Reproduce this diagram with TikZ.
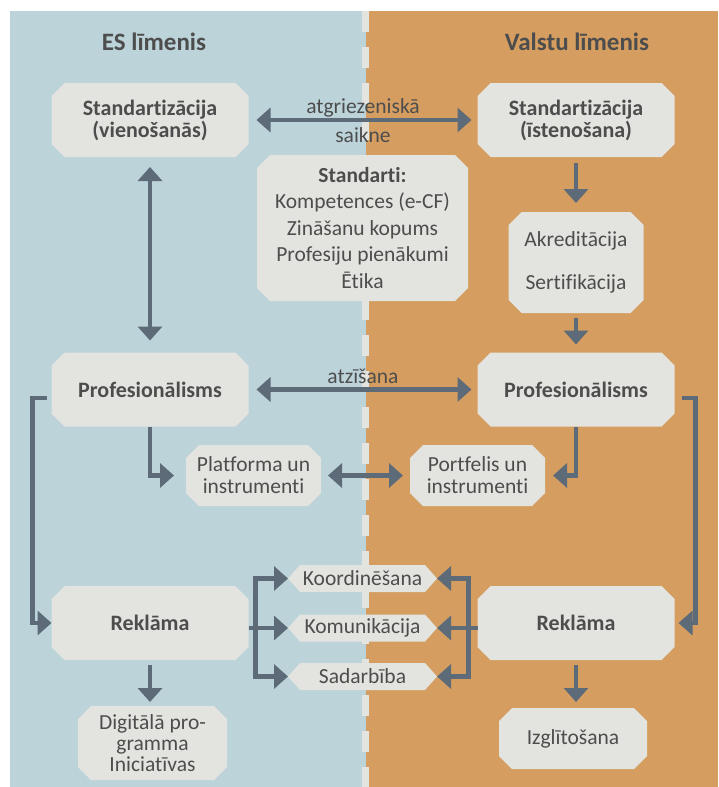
\documentclass[tikz,border=0pt]{standalone}
\usepackage{fontspec}
\setmainfont{Carlito}[Ligatures=CommonOff]
\usetikzlibrary{arrows.meta}
\definecolor{eupanel}{HTML}{BCD3DA}
\definecolor{natpanel}{HTML}{D59E60}
\definecolor{boxfill}{HTML}{E3E3DF}
\definecolor{arrowcol}{HTML}{5D6B78}
\definecolor{textcol}{HTML}{4D4D4D}
\pgfdeclarelayer{backdrop}
\pgfdeclarelayer{plates}
\pgfsetlayers{backdrop,plates,main}
\tikzset{
    fat/.tip={Triangle[width=24pt,length=14pt]},
    plate/.style 2 args={text=textcol, align=center, inner sep=0pt, outer sep=0pt,
        font=\fontsize{21.5}{22}\selectfont,
        append after command={\pgfextra{\begin{pgfonlayer}{plates}
            \fill[boxfill] ([xshift=#1]\tikzlastnode.north west) -- ([xshift=-#1]\tikzlastnode.north east)
                -- ([yshift=-#2]\tikzlastnode.north east) -- ([yshift=#2]\tikzlastnode.south east)
                -- ([xshift=-#1]\tikzlastnode.south east) -- ([xshift=#1]\tikzlastnode.south west)
                -- ([yshift=#2]\tikzlastnode.south west) -- ([yshift=-#2]\tikzlastnode.north west) -- cycle;
        \end{pgfonlayer}}}},
    box/.style={plate={13pt}{13pt}},
    bigbox/.style={box, minimum width=197pt, minimum height=74pt, font=\bfseries\fontsize{22}{22}\selectfont},
    tag/.style={plate={12pt}{13.5pt}, minimum width=149pt, minimum height=27pt},
    head/.style={text=textcol, font=\bfseries\fontsize{25}{25}\selectfont},
    link/.style={draw=arrowcol, line width=4.5pt, -fat},
    twoway/.style={link, fat-fat},
    note/.style={text=textcol, font=\fontsize{21.5}{22}\selectfont}
}
\begin{document}
\begin{tikzpicture}[x=1pt,y=-1pt]
    \useasboundingbox (0,0) rectangle (718,787);
    \begin{pgfonlayer}{backdrop}
        \fill[eupanel] (10,11) rectangle (366,787);
        \fill[natpanel] (366,11) rectangle (718,787);
        \draw[boxfill,line width=7pt,dash pattern=on 21pt off 15pt] (365.5,11) -- (365.5,787);
    \end{pgfonlayer}
    % headings
    \node[head] (euhead) at (154,42) {ES līmenis};
    \node[head] (nathead) at (577,42) {Valstu līmenis};
    % boxes
    \node[bigbox] (stdL) at (150,120) {Standartizācija\\(vienošanās)};
    \node[bigbox] (stdR) at (576,120) {Standartizācija\\(īstenošana)};
    \node[box, minimum width=211pt, minimum height=146pt, font=\fontsize{21.5}{26.5}\selectfont]
        (norms) at (362.5,228) {\textbf{Standarti:}\\Kompetences (e-CF)\\Zināšanu kopums\\Profesiju pienākumi\\Ētika};
    \node[box, minimum width=135pt, minimum height=101pt] (accr) at (576,262.5) {Akreditācija\\[21pt]Sertifikācija};
    \node[bigbox] (profL) at (150,389.5) {Profesionālisms};
    \node[bigbox] (profR) at (576,389.5) {Profesionālisms};
    \node[box, minimum width=135pt, minimum height=61pt] (platf) at (253.5,475.5) {Platforma un\\instrumenti};
    \node[box, minimum width=135pt, minimum height=61pt] (portf) at (477.5,475.5) {Portfelis un\\instrumenti};
    \node[bigbox] (advL) at (150,623) {Reklāma};
    \node[bigbox] (advR) at (576,623) {Reklāma};
    \node[tag] (coord) at (362.5,578.5) {Koordinēšana};
    \node[tag] (comm) at (362.5,628) {Komunikācija};
    \node[tag] (coop) at (362.5,676.5) {Sadarbība};
    \node[box, minimum width=149pt, minimum height=74pt, font=\fontsize{21.5}{21}\selectfont]
        (digi) at (152.5,743) {Digitālā pro-\\gramma\\Iniciatīvas};
    \node[box, minimum width=148pt, minimum height=61pt] (educ) at (573,738.5) {Izglītošana};
    % connectors
    \draw[twoway, shorten <=8pt, shorten >=6pt] (stdL) -- node[note, above, inner sep=1pt] {atgriezeniskā}
        node[note, below, inner sep=5pt] {saikne} (stdR);
    \draw[twoway, shorten <=10pt, shorten >=12pt] (stdL) -- (profL);
    \draw[link, shorten <=6pt, shorten >=9pt] (stdR) -- (accr);
    \draw[link, shorten <=5pt, shorten >=8pt] (accr) -- (profR);
    \draw[twoway, shorten <=8pt, shorten >=6pt] (profL) -- node[note, above, inner sep=4pt] {atzīšana} (profR);
    \draw[link, shorten >=12pt] (profL.south) |- (platf);
    \draw[link, shorten >=8pt] (profR.south) |- (portf);
    \draw[twoway, shorten <=7pt, shorten >=7pt] (platf) -- (portf);
    \draw[link] ([xshift=-5pt,yshift=-8.5pt]profL.west) -- ++(-14,0) |- (advL.west);
    \draw[link, shorten >=4pt] ([xshift=7pt,yshift=-8.5pt]profR.east) -- ++(14,0) |- (advR.east);
    \draw[link] (advL.east |- comm) -- ++(7,0) |- (coord);
    \draw[link] (advL.east |- comm) -- (comm);
    \draw[link] (advL.east |- comm) -- ++(7,0) |- (coop);
    \draw[link] (advR.west |- comm) -- ++(-9,0) |- (coord);
    \draw[link] (advR.west |- comm) -- (comm);
    \draw[link] (advR.west |- comm) -- ++(-9,0) |- (coop);
    \draw[link, shorten <=5pt, shorten >=4pt] (advL.south) -- (advL.south |- digi.north);
    \draw[link, shorten <=5pt, shorten >=6pt] (advR.south) -- (advR.south |- educ.north);
\end{tikzpicture}
\end{document}
